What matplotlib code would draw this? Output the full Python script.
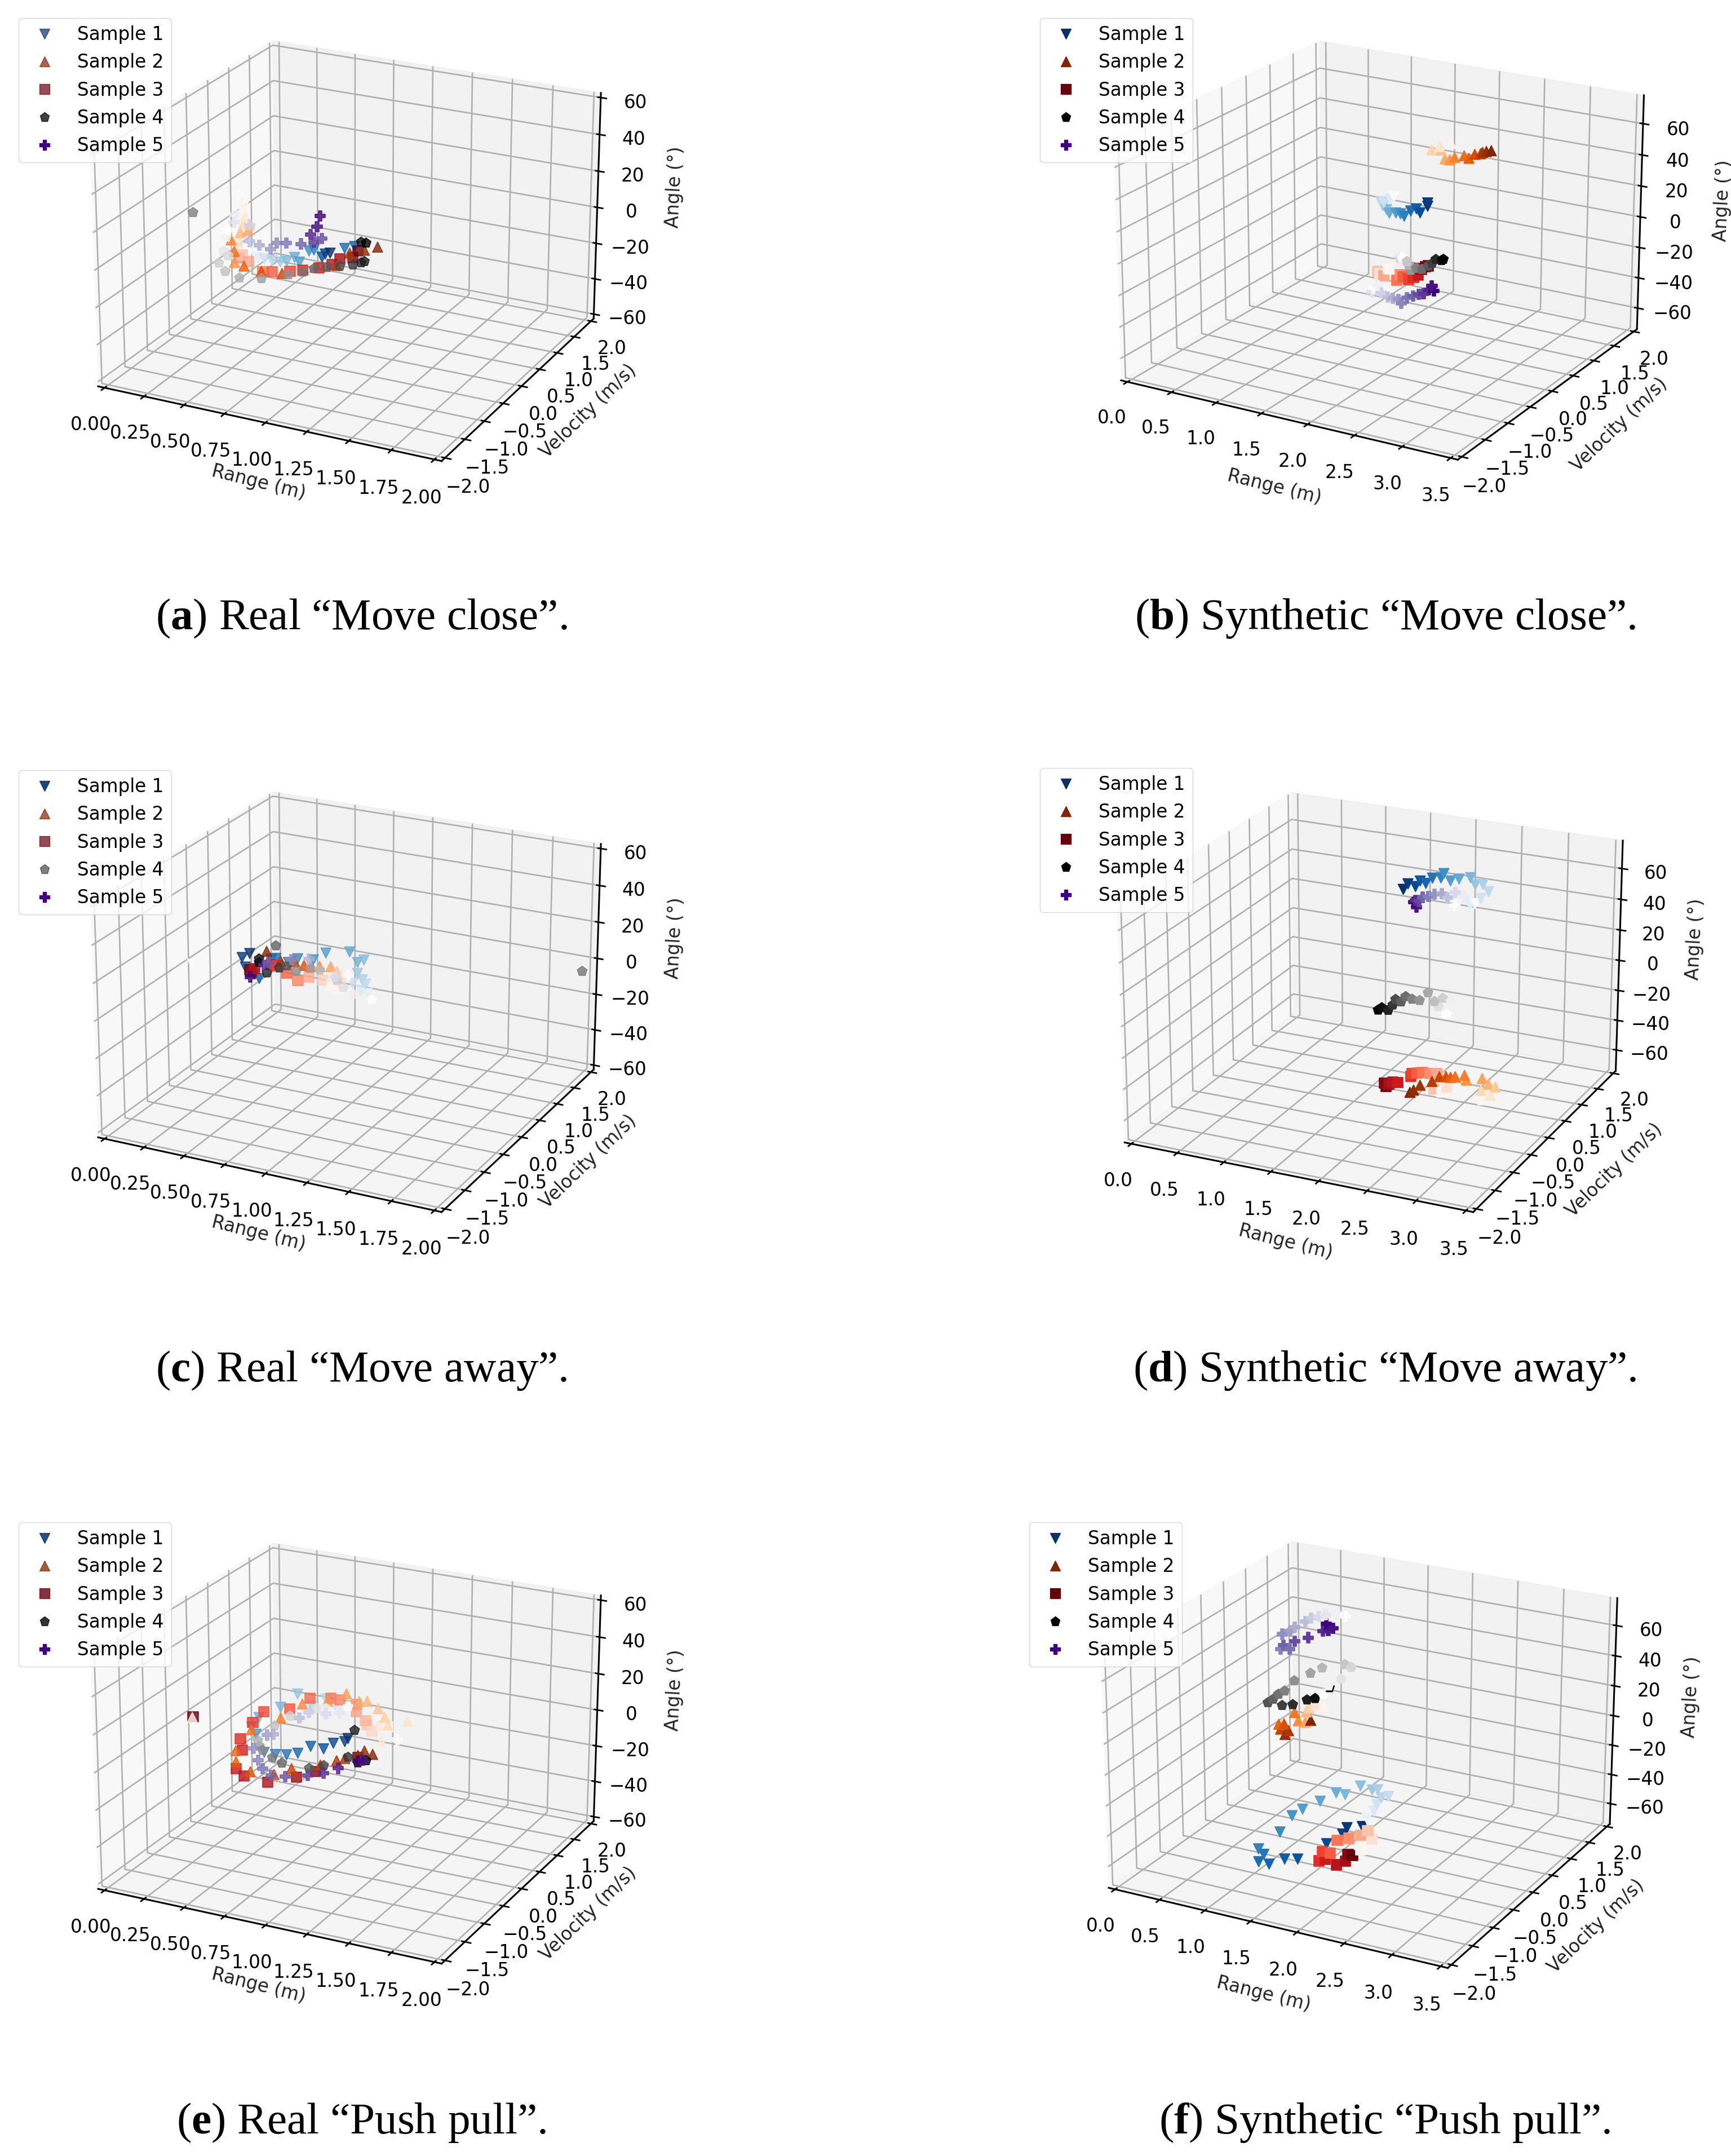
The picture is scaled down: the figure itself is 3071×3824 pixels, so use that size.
import numpy as np
import matplotlib
matplotlib.use('Agg')
import matplotlib.pyplot as plt
from matplotlib.lines import Line2D
from mpl_toolkits.mplot3d import Axes3D

# ---------- data (range in hundredths of a metre, angle in degrees) ----------
a1_r=[51,54,58,63,68,72,77,80,86,89,108,114,94,96,99]
a1_a=[-7,-10,-10,-10,-10,-9,-6,-8,-1,0,4,6,-3,-1,0]
a2_r=[45,46,45,49,43,48,39,37,39,45,56,69,103,111,120,128]
a2_a=[16,11,7,7,2,4,-15,-3,-9,-16,-17,-16,-6,2,5,8]
a3_r=[45,41,44,48,42,57,63,74,82,92,100,105,113,116]
a3_a=[18,-4,-10,-13,-12,-17,-16,-14,-12,-9,-6,-2,0,4]
a4_r=[35,34,32,35,29,33,42,56,73,13,82,89,97,105,113,118,120,118,121]
a4_a=[2,-2,-10,-12,-17,-21,-23,-21,-16,8,-13,-10,-8,-6,-4,-2,-1,9,9]
a5_r=[42,40,39,49,49,55,62,66,72,81,94,89,87,91,93]
a5_a=[22,11,7,7,-2,-3,-4,0,1,2,7,4,8,13,19]
b1_r=[211,207,200,197,199,203,206,213,218,222,229,235,239,247,247]
b1_a=[40,38,35,35,33,31,29,30,30,29,33,35,33,40,38]
b2_r=[271,259,251,261,265,270,275,285,290,296,302,304,308,313]
b2_a=[79,76,73,74,69,69,71,73,72,75,76,77,78,79]
b3_r=[205,196,193,200,218,214,221,227,232,237,236,241,248,245]
b3_a=[-6,-10,-9,-11,-8,-12,-9,-10,-8,-6,-2,-2,1,0]
b4_r=[220,222,217,225,227,229,235,241,248,252,256,262,264]
b4_a=[3,1,2,1,-1,-4,-2,-2,1,3,6,6,7]
b5_r=[189,193,187,197,204,210,216,219,225,232,238,243,249,252,254]
b5_a=[-20,-18,-23,-22,-24,-24,-24,-26,-22,-20,-18,-17,-14,-11,-14]
c1_r=[-16,97,93,88,96,94,91,95,91,86,71,63,53,47,39,36,28,25,19,17,22]
c1_a=[-13,-11,-10,-7,-6,-4,-1,7,5,10,7,2,1,-2,-1,-2,-14,-12,-9,-4,-1]
c2_r=[78,81,78,74,67,61,57,51,42,33]
c2_a=[-11,-4,-2,0,-1,-2,-2,-1,-2,2]
c3_r=[75,69,60,53,46,40,36,25,23,22]
c3_a=[-10,-8,-8,-11,-8,-5,-5,-9,-11,-10]
c4_r=[100,88,82,78,67,61,52,227,39,46,41,33,28,28]
c4_a=[-14,-13,-10,-7,-3,-3,-6,22,6,-4,-6,-10,-3,-5]
c5_r=[85,77,60,49,34,31,22]
c5_a=[-3,-5,2,0,-4,-6,-14]
d1_r=[259,254,265,273,267,259,254,242,233,226,223,214,207,201,196,188,183]
d1_a=[56,55,60,65,69,68,72,70,68,72,69,68,64,65,61,62,58]
d2_r=[270,278,268,283,276,269,252,250,240,235,230,223,215,202,195,191]
d2_a=[-70,-66,-64,-60,-59,-56,-59,-56,-58,-59,-59,-60,-64,-68,-72,-74]
d3_r=[226,231,217,220,213,205,199,193,192,178,172,168,163,165]
d3_a=[-70,-66,-69,-58,-59,-59,-60,-61,-63,-69,-69,-71,-71,-73]
d4_r=[230,235,221,226,217,210,201,193,186,181,175,172,167,160,156]
d4_a=[-18,-9,-14,-8,-11,-6,-12,-12,-11,-15,-14,-18,-22,-21,-23]
d5_r=[238,248,238,230,224,216,210,204,200,196,197,194]
d5_a=[53,59,61,57,59,58,56,55,52,52,48,51]
e1_r=[104,94,85,77,71,62,53,42,28,23,53,58,65,72,79,87,95,101,108,110]
e1_a=[5,9,8,8,10,5,10,1,-7,-13,4,-5,-5,-4,-2,3,3,7,9,11]
e2_r=[-16,106,122,110,108,104,97,92,84,72,56,42,50,40,40,49,64,75,93,103,108,116,120,125]
e2_a=[-14,-8,6,2,6,10,13,12,15,9,5,-5,6,-7,-13,-17,-16,-11,-6,-2,0,3,6,5]
e3_r=[110,106,100,97,96,90,90,80,74,61,48,58,51,43,44,40,45,60,78,90,116,13]
e3_a=[1,1,-3,0,2,6,10,11,11,9,1,17,10,0,-6,-17,-20,-21,-15,-10,2,7]
e4_r=[85,71,65,48,38,27,28,30,63,69,86,95,110,114,116,121]
e4_a=[8,5,4,-3,-10,-20,-23,-25,-7,-9,-9,-6,1,16,-1,1]
e5_r=[116,84,80,71,60,54,37,33,24,54,57,62,71,85,95,104,119,116]
e5_a=[-5,1,4,2,1,-3,-15,-16,-25,-10,-14,-17,-16,-13,-10,-6,1,0]
f1_r=[170,177,185,188,201,193,189,183,170,153,143,125,105,93,79,54,60,54,66,84,99,132,150,155,172]
f1_a=[-56,-49,-43,-38,-31,-33,-28,-29,-28,-36,-36,-44,-52,-58,-71,-86,-89,-95,-95,-89,-87,-72,-63,-58,-55]
f2_r=[129,120,113,110,109,101,97,79,85,81,90,86,115]
f2_a=[20,20,17,14,7,7,12,2,3,-1,-1,-4,9]
f3_r=[170,183,178,170,157,144,136,127,123,130,143,153,156,161]
f3_a=[-71,-62,-57,-61,-65,-68,-78,-78,-85,-83,-85,-81,-76,-76]
f4_r=[129,135,149,160,153,128,115,97,86,79,73,67,83,95,111,120,136]
f4_a=[28,34,40,49,50,45,40,33,25,22,18,15,15,17,22,24,33]
f5_r=[154,145,132,125,116,110,98,93,84,82,92,85,98,113,129,135,140,133]
f5_a=[81,82,80,78,76,73,68,65,62,52,53,55,59,63,69,70,72,74]
# velocity of each panel (depth of the trajectory, estimated): (early part, late part)
velocity={'a':(-.5,-.5),'b':(-.5,-.5),'c':(.5,.5),'d':(.5,.5),'e':(.5,-.5),'f':(0,0)}
names=['Sample 1','Sample 2','Sample 3','Sample 4','Sample 5']
captions={'a':'Real “Move close”.','b':'Synthetic “Move close”.','c':'Real “Move away”.',
          'd':'Synthetic “Move away”.','e':'Real “Push pull”.','f':'Synthetic “Push pull”.'}
vel_ticks=[-2,-1.5,-1,-.5,0,.5,1,1.5,2]
ang_ticks=[-60,-40,-20,0,20,40,60]

plt.rcParams['mathtext.fontset']='custom'
plt.rcParams['mathtext.bf']='Liberation Serif:bold'
plt.rcParams['mathtext.rm']='Liberation Serif'
W,H=3071,3824
K=2.439
FS=23.5
fig=plt.figure(figsize=(W/100,H/100),dpi=100,facecolor='white')
D=globals()
R2=dict(rl=2,xt=[0,.25,.5,.75,1,1.25,1.5,1.75,2],xf='%.2f',zl=(-60,60),al=.8)
R3=dict(rl=3.5,xt=[0,.5,1,1.5,2,2.5,3,3.5],xf='%.1f',zl=(-71,75),al=1)
layout={
 'a':dict(R2,el=22,az=-63.5,za=2.65,w=968,c=(611,436),leg=(33,32),cc=(641,1097),rg=(188,351),ve=(428,299),an=(491,136),la=(.7,.7,.7,.75,1)),
 'b':dict(R3,el=20,az=-59.75,za=2.65,w=987,c=(2442,434),leg=(1845,32),cc=(2457,1097),rg=(927,354),ve=(1178,309),an=(1253,146),la=(1,1,1,1,1)),
 'c':dict(R2,el=22,az=-63.5,za=2.65,w=968,c=(611,1768),leg=(33,1366),cc=(641,2431),rg=(188,897),ve=(428,845),an=(491,682),la=(.9,.7,.7,.5,1)),
 'd':dict(R3,el=21.5,az=-65,za=2.7,w=971,c=(2429,1769),leg=(1845,1362),cc=(2457,2431),rg=(935,903),ve=(1174,851),an=(1233,683),la=(1,1,1,1,1)),
 'e':dict(R2,el=22,az=-63.5,za=2.65,w=968,c=(611,3101),leg=(33,2700),cc=(641,3765),rg=(188,1444),ve=(428,1392),an=(491,1229),la=(.85,.75,.8,.8,1)),
 'f':dict(R3,el=22.5,az=-62,za=2.65,w=971,c=(2408,3103),leg=(1826,2700),cc=(2457,3765),rg=(919,1450),ve=(1161,1401),an=(1230,1234),la=(1,1,1,1,1)),
}
cmaps=['Blues','Oranges','Reds','Greys','Purples']
markers=['v','^','s','p','P']
dark=['#08306b','#7f2704','#67000d','#000000','#3f007d']
draw_order=[0,2,1,3,4]
GROW=1+1/24  # the panes sit 1/48 of each range outside the ticks

for k,p in layout.items():
    cx,cy=p['c'];w=p['w']*GROW
    ax=fig.add_axes([(cx-w/2)/W,1-(cy+w/2)/H,w/W,w/H],projection='3d')
    ax.view_init(elev=p['el'],azim=p['az'])
    ax.set_box_aspect((4,4,p['za']))
    ax.patch.set_alpha(0)
    ax.computed_zorder=False
    for z,si in enumerate(draw_order):
        r=np.array(D[f'{k}{si+1}_r'])/100
        a=np.array(D[f'{k}{si+1}_a'])
        n=len(r)
        v=[velocity[k][0] if i<n/2 else velocity[k][1] for i in range(n)]
        ax.scatter(r,v,a,c=np.linspace(0,1,n)**.8,vmin=0,vmax=1,cmap=cmaps[si],marker=markers[si],s=170,
                   linewidths=1.2,alpha=p['al'],depthshade=False,zorder=z+2)
    dx=p['rl']/48;dz=(p['zl'][1]-p['zl'][0])/48
    ax.set_xlim(-dx,p['rl']+dx);ax.set_ylim(-2-1/12,2+1/12);ax.set_zlim(p['zl'][0]-dz,p['zl'][1]+dz)
    ax.set_xticks(p['xt']);ax.set_xticklabels([p['xf']%t for t in p['xt']])
    ax.set_yticks(vel_ticks);ax.set_yticklabels([('%.1f'%t).replace('-','\u2212') for t in vel_ticks])
    ax.set_zticks(ang_ticks);ax.set_zticklabels([('%d'%t).replace('-','\u2212') for t in ang_ticks])
    ax.tick_params(axis='x',labelsize=FS,pad=20)
    ax.tick_params(axis='y',labelsize=FS,pad=16)
    ax.tick_params(axis='z',labelsize=FS,pad=19)
    for axis in (ax.xaxis,ax.yaxis,ax.zaxis):
        axis._axinfo['grid']['linewidth']=1.9
        axis._axinfo['tick']['linewidth']={True:2,False:1.5}
        axis.line.set_linewidth(2.2)
    h=[Line2D([],[],ls='',marker=m,color=c,ms=12.5,alpha=a)
       for m,c,a in zip(markers,dark,p['la'])]
    ax.legend(h,names,loc='upper left',bbox_to_anchor=(p['leg'][0]/W,1-p['leg'][1]/H),
              bbox_transform=fig.transFigure,borderaxespad=0,fontsize=FS,numpoints=1)
    for txt,pos,rot in [('Range (m)',p['rg'],-14),('Velocity (m/s)',p['ve'],44),('Angle (°)',p['an'],87)]:
        fig.text(pos[0]*K/W,1-pos[1]*K/H,txt,rotation=rot,ha='center',va='center',fontsize=FS,color='#222222',rotation_mode='anchor')
    fig.text(p['cc'][0]/W,1-p['cc'][1]/H,r'($\mathbf{%s}$) %s'%(k,captions[k]),ha='center',va='center',
             family='Liberation Serif',fontsize=57)
fig.savefig('out.png',dpi=100)
